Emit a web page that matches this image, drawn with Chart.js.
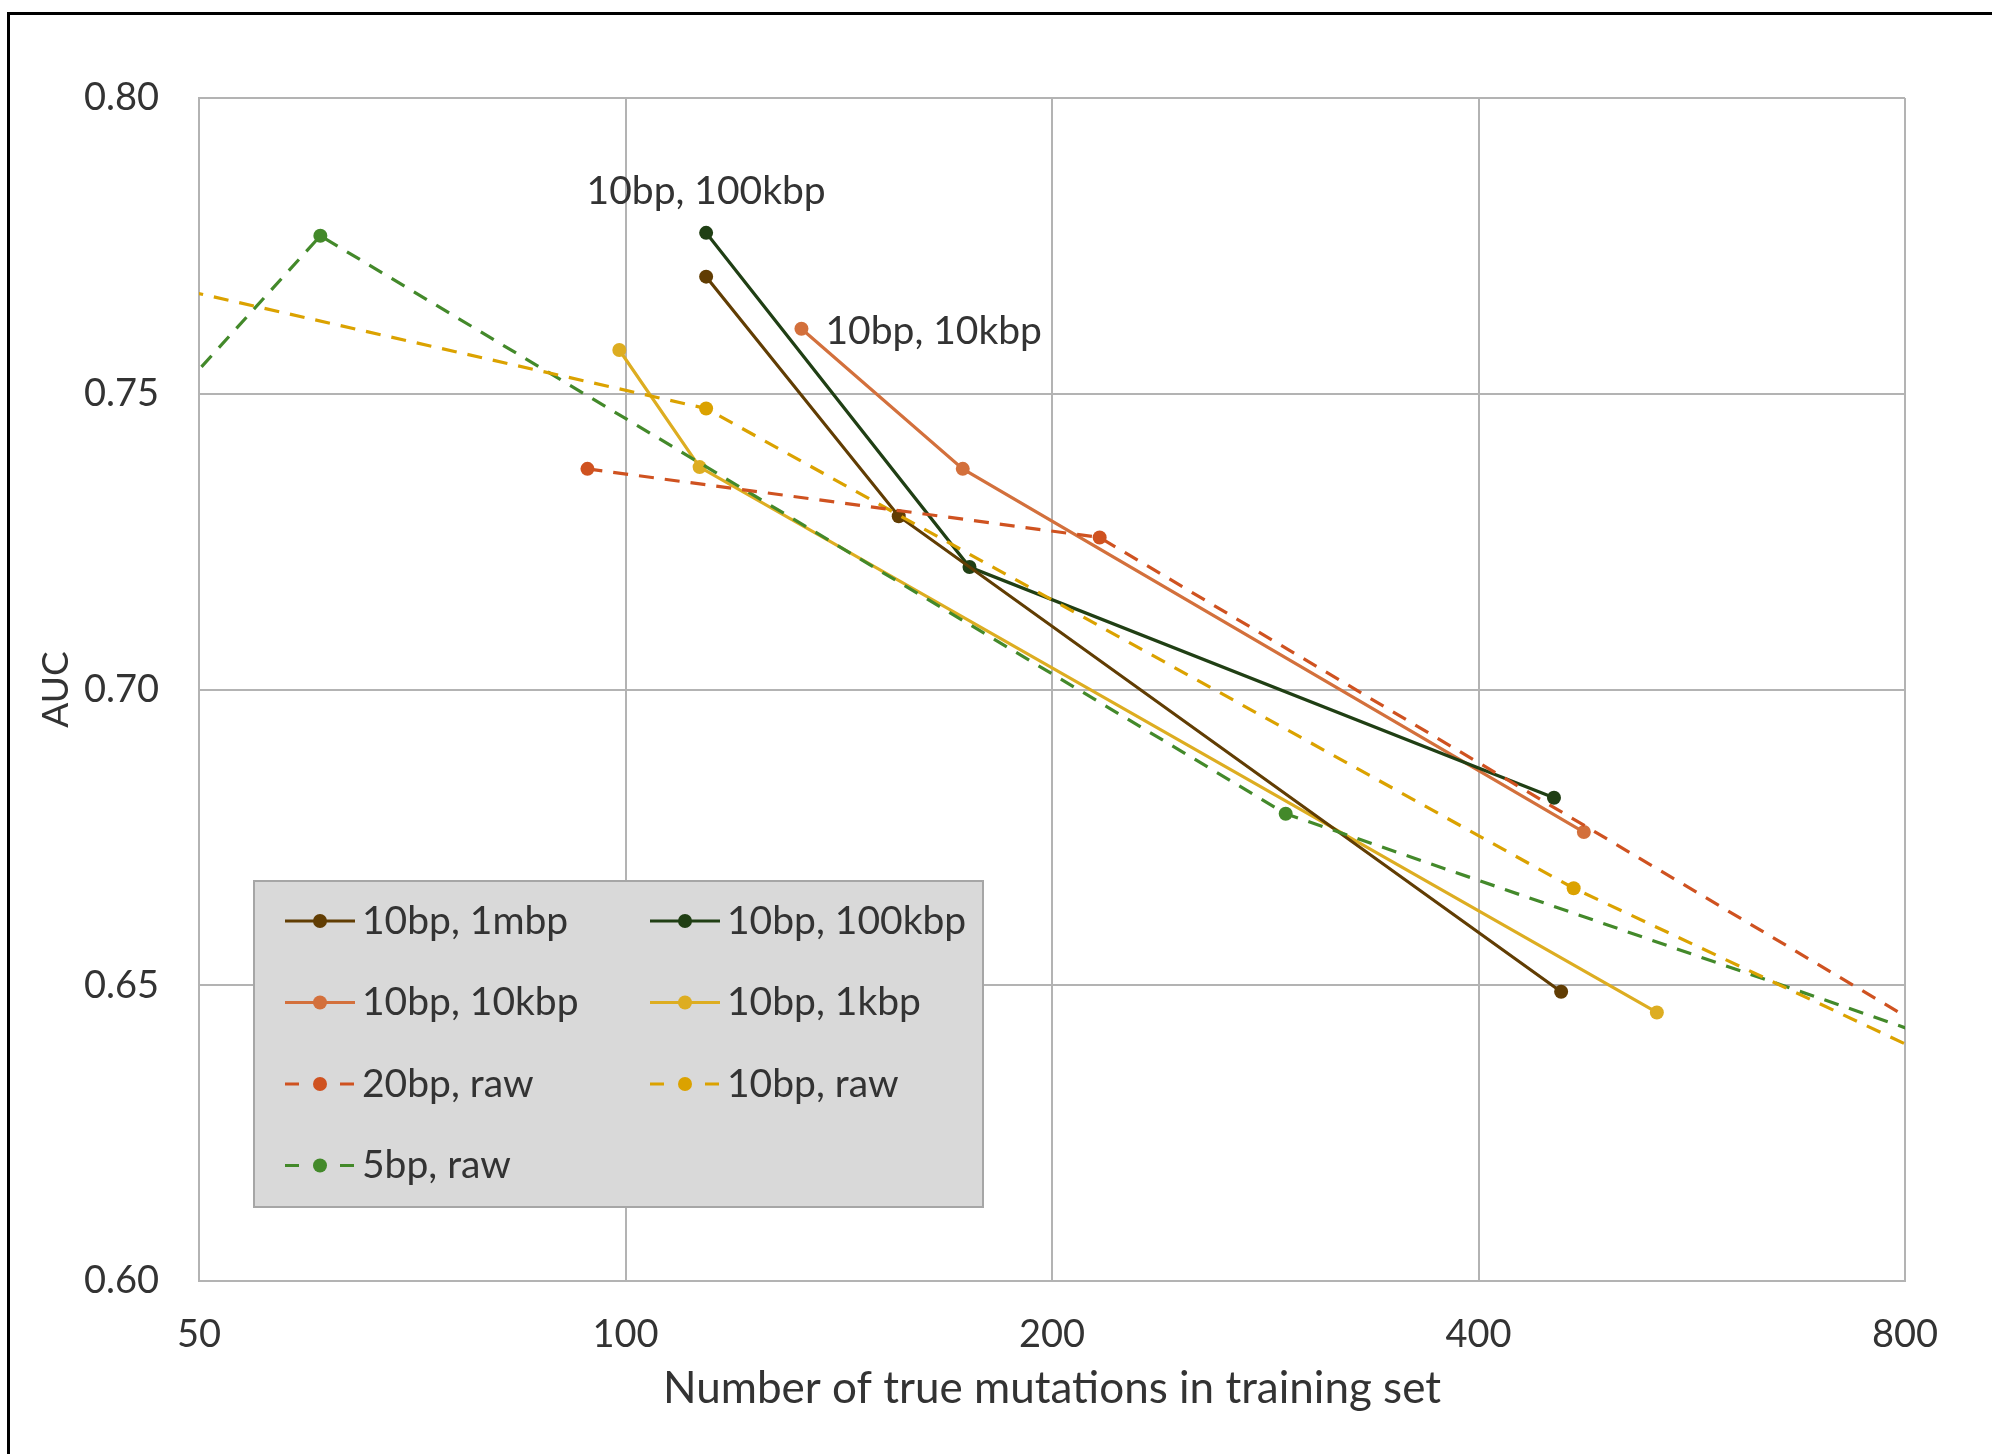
<!DOCTYPE html>
<html><head><meta charset="utf-8">
<script src="https://cdn.jsdelivr.net/npm/chart.js@4.4.1/dist/chart.umd.min.js"></script>
<style>
html,body{margin:0;padding:0;background:#fff;}
#wrap{position:relative;width:1992px;height:1454px;overflow:hidden;background:#fff;}
#frame{position:absolute;left:7px;top:12px;width:3000px;height:3000px;border-top:3px solid #000;border-left:3px solid #000;pointer-events:none;}
canvas{position:absolute;left:0;top:0;}
</style></head><body>
<div id="wrap"><canvas id="c" width="1992" height="1454"></canvas><div id="frame"></div></div>
<script>
// ---- data ----
const seriesNames = ["10bp, 1mbp", "10bp, 100kbp", "10bp, 10kbp", "10bp, 1kbp", "20bp, raw", "10bp, raw", "5bp, raw"];
const mbp1X   = [114, 155.9, 457.5];
const mbp1Y   = [0.7698, 0.7293, 0.6489];
const kbp100X = [114, 174.9, 452.2];
const kbp100Y = [0.7772, 0.7207, 0.6817];
const kbp10X  = [133.1, 173.0, 474.7];
const kbp10Y  = [0.7610, 0.7373, 0.6759];
const kbp1X   = [99, 112.8, 534.5];
const kbp1Y   = [0.7574, 0.7376, 0.6454];
const raw20X  = [94.0, 216.1, 1000];
const raw20Y  = [0.7373, 0.7257, 0.6310];
const raw10X  = [40, 114, 466.9, 1000];
const raw10Y  = [0.7722, 0.7475, 0.6664, 0.6292];
const raw5X   = [40, 60.9, 292.4, 1000];
const raw5Y   = [0.7285, 0.7767, 0.679, 0.6348];
const xTickValues = [50, 100, 200, 400, 800];
const yTickValues = [0.60, 0.65, 0.70, 0.75, 0.80];
const axisTitleX = "Number of true mutations in training set";
const axisTitleY = "AUC";
const pointLabels = [ {series: 1, point: 0, pos: "above"}, {series: 2, point: 0, pos: "right"} ];

const colors = ["#613d03", "#203f14", "#d3703c", "#ddad21", "#cf5220", "#dba200", "#43892a"];
const dashed = [false, false, false, false, true, true, true];
const xs = [mbp1X, kbp100X, kbp10X, kbp1X, raw20X, raw10X, raw5X];
const ys = [mbp1Y, kbp100Y, kbp10Y, kbp1Y, raw20Y, raw10Y, raw5Y];

const FONT = "Lato";
const TXT = "#333333";

const datasets = seriesNames.map((name, i) => ({
  label: name,
  data: xs[i].map((x, j) => ({x: x, y: ys[i][j]})),
  borderColor: colors[i],
  backgroundColor: colors[i],
  pointBackgroundColor: colors[i],
  pointBorderColor: colors[i],
  pointBorderWidth: 0,
  pointRadius: 7,
  borderWidth: 3.2,
  borderDash: dashed[i] ? [15, 11] : [],
  showLine: true,
  tension: 0,
  clip: 0,
  order: dashed[i] ? 0 : 1
}));

const boxLegend = {
  id: "boxLegend",
  afterDraw(chart) {
    const ctx = chart.ctx, a = chart.chartArea;
    const bx = a.left + 55, by = a.top + 783, bw = 729, bh = 326;
    ctx.save();
    ctx.fillStyle = "#d9d9d9";
    ctx.fillRect(bx, by, bw, bh);
    ctx.strokeStyle = "#a6a6a6";
    ctx.lineWidth = 2;
    ctx.strokeRect(bx, by, bw, bh);
    chart.data.datasets.forEach((ds, i) => {
      const col = i % 2, row = Math.floor(i / 2);
      const sx = bx + 31 + col * 365, sy = by + 40 + row * 81.5;
      ctx.strokeStyle = ds.borderColor;
      ctx.lineWidth = 3.2;
      ctx.setLineDash([]);
      ctx.beginPath();
      if (ds.borderDash && ds.borderDash.length) {
        ctx.moveTo(sx, sy); ctx.lineTo(sx + 14, sy);
        ctx.moveTo(sx + 55, sy); ctx.lineTo(sx + 69, sy);
      } else {
        ctx.moveTo(sx, sy); ctx.lineTo(sx + 70, sy);
      }
      ctx.stroke();
      ctx.fillStyle = ds.pointBackgroundColor;
      ctx.beginPath();
      ctx.arc(sx + 35, sy, 7, 0, Math.PI * 2);
      ctx.fill();
      ctx.fillStyle = TXT;
      ctx.font = "39px " + FONT;
      ctx.textAlign = "left";
      ctx.textBaseline = "middle";
      ctx.fillText(ds.label, sx + 77, sy);
    });
    ctx.restore();
  }
};

const dataLabels = {
  id: "dataLabels",
  afterDatasetsDraw(chart) {
    const ctx = chart.ctx;
    ctx.save();
    ctx.font = "39px " + FONT;
    ctx.fillStyle = TXT;
    ctx.textBaseline = "middle";
    pointLabels.forEach(s => {
      const el = chart.getDatasetMeta(s.series).data[s.point];
      const text = chart.data.datasets[s.series].label;
      if (s.pos === "above") {
        ctx.textAlign = "center";
        ctx.fillText(text, el.x, el.y - 41);
      } else {
        ctx.textAlign = "left";
        ctx.fillText(text, el.x + 24, el.y + 3);
      }
    });
    ctx.restore();
  }
};

Chart.defaults.font.family = FONT;
Chart.defaults.color = TXT;

new Chart(document.getElementById("c"), {
  type: "scatter",
  data: { datasets },
  options: {
    responsive: false,
    animation: false,
    devicePixelRatio: 1,
    layout: { padding: { top: 98, right: 87, left: 0, bottom: 0 } },
    plugins: { legend: { display: false }, tooltip: { enabled: false } },
    scales: {
      x: {
        type: "logarithmic",
        min: 50, max: 800,
        afterBuildTicks: s => { s.ticks = xTickValues.map(v => ({value: v})); },
        afterFit: s => { s.height = 173; },
        ticks: { font: { size: 38 }, color: TXT, padding: 31, maxRotation: 0, autoSkip: false, callback: v => String(v) },
        grid: { color: "#b3b3b3", lineWidth: 2, drawTicks: false },
        border: { color: "#b3b3b3", width: 2 },
        title: { display: true, text: axisTitleX, font: { size: 44 }, color: TXT, padding: { top: 0, bottom: 39 } }
      },
      y: {
        type: "linear",
        min: 0.6, max: 0.8,
        afterBuildTicks: s => { s.ticks = yTickValues.map(v => ({value: v})); },
        afterFit: s => { s.width = 199; },
        ticks: { font: { size: 38 }, color: TXT, padding: 40, callback: v => Number(v).toFixed(2) },
        grid: { color: "#b3b3b3", lineWidth: 2, drawTicks: false },
        border: { color: "#b3b3b3", width: 2 },
        title: { display: true, text: axisTitleY, font: { size: 37 }, color: TXT, padding: { top: 34, bottom: 0 } }
      }
    }
  },
  plugins: [dataLabels, boxLegend]
});
</script>
</body></html>
